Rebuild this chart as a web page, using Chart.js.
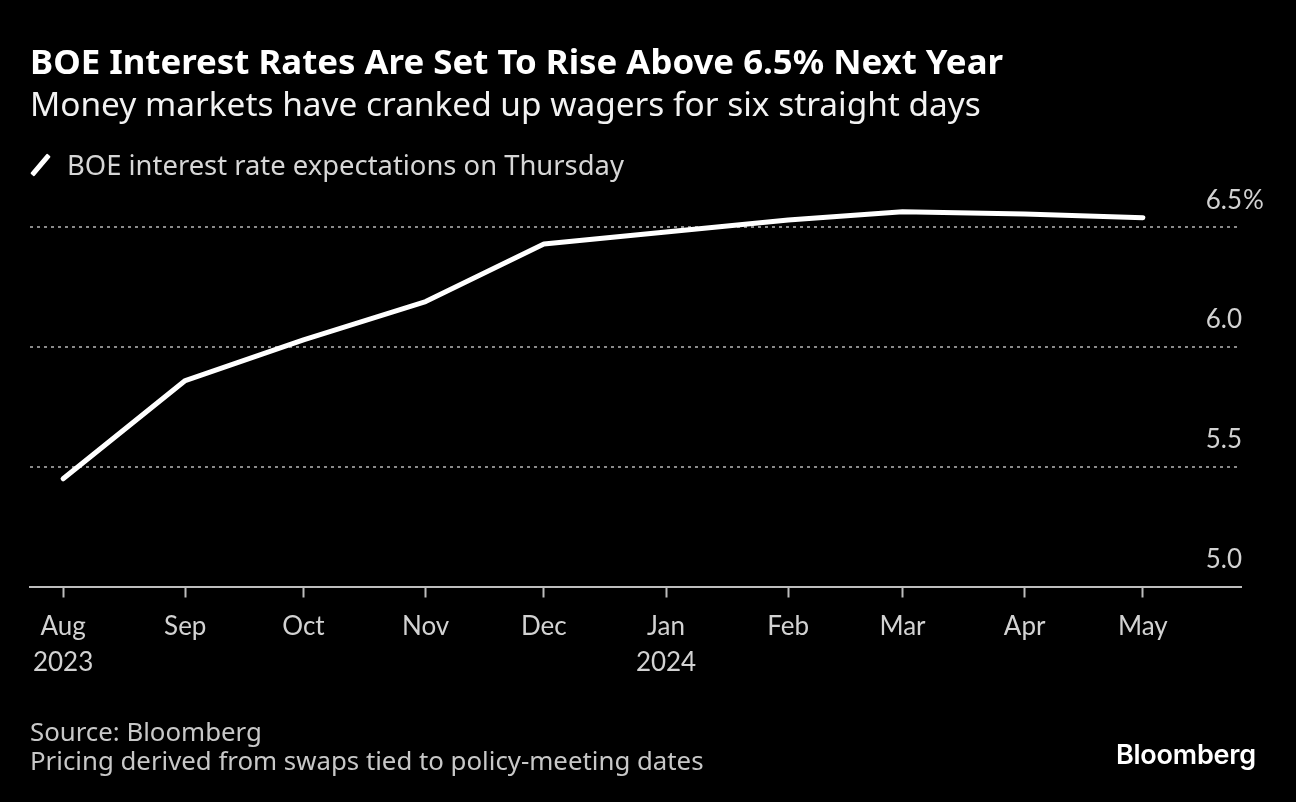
<!DOCTYPE html>
<html>
<head>
<meta charset="utf-8">
<script src="https://cdn.jsdelivr.net/npm/chart.js@4.4.1/dist/chart.umd.min.js"></script>
<style>
    html, body { margin: 0; padding: 0; background: #000; }
    #wrap { position: relative; width: 1296px; height: 802px; overflow: hidden; font-family: 'Noto Sans', sans-serif; }
    #wrap canvas { position: absolute; left: 0; top: 0; }
    .txt { position: absolute; line-height: 1; white-space: nowrap; }
    #title { left: 30px; top: 44.1px; font-size: 34.8px; font-weight: 700; color: #fff; }
    #subtitle { left: 30px; top: 87.3px; font-size: 33.4px; color: #f2f2f2; }
    #legend { left: 67px; top: 151.4px; font-size: 27.4px; color: #d6d6d6; }
    #legendIcon { position: absolute; left: 38px; top: 152px; width: 5px; height: 26px; background: #fff; border-radius: 1px; transform: rotate(40deg); }
    #source { left: 30px; top: 718.8px; font-size: 25.8px; color: #c8c8c8; }
    #note { left: 30px; top: 748.1px; font-size: 25.8px; color: #c8c8c8; }
    #logo { right: 40px; top: 741px; font-size: 27px; font-weight: 600; color: #fff; font-family: 'Inter', sans-serif; letter-spacing: -0.2px; }
</style>
</head>
<body>
<div id="wrap">
    <canvas id="chart"></canvas>
    <div class="txt" id="title">BOE Interest Rates Are Set To Rise Above 6.5% Next Year</div>
    <div class="txt" id="subtitle">Money markets have cranked up wagers for six straight days</div>
    <div id="legendIcon"></div>
    <div class="txt" id="legend"></div>
    <div class="txt" id="source">Source: Bloomberg</div>
    <div class="txt" id="note">Pricing derived from swaps tied to policy-meeting dates</div>
    <div class="txt" id="logo">Bloomberg</div>
</div>
<script>
// --- データ ---
const seriesLabel = 'BOE interest rate expectations on Thursday';
const monthDates = ['2023-08-01', '2023-09-01', '2023-10-01', '2023-11-01', '2023-12-01',
                    '2024-01-01', '2024-02-01', '2024-03-01', '2024-04-01', '2024-05-01'];
const xTickLabels = [['Aug', '2023'], 'Sep', 'Oct', 'Nov', 'Dec', ['Jan', '2024'], 'Feb', 'Mar', 'Apr', 'May'];
const rateExpectations = [5.45, 5.86, 6.03, 6.19, 6.43, 6.48, 6.53, 6.565, 6.555, 6.54];
const yTicks = [5.0, 5.5, 6.0, 6.5];

const DAY = 86400000;
const origin = Date.parse(monthDates[0]);
const dayOffsets = monthDates.map(d => (Date.parse(d) - origin) / DAY);

document.getElementById('legend').textContent = seriesLabel;

const COLORS = {
    line: '#ffffff',
    grid: '#8a8a8a',
    axis: '#bdbdbd',
    tick: '#d2d2d2'
};

// y軸ラベル（グリッド線の上、右寄せ）
const yLabelPlugin = {
    id: 'yLabels',
    afterDraw(chart) {
        const { ctx } = chart;
        const y = chart.scales.y;
        const right = chart.chartArea.right;
        ctx.save();
        ctx.font = "26px 'Lato', sans-serif";
        ctx.fillStyle = COLORS.tick;
        ctx.textBaseline = 'middle';
        yTicks.forEach((v, i) => {
            const py = y.getPixelForValue(v) - 27;
            ctx.textAlign = 'right';
            ctx.fillText(v.toFixed(1), right + 1, py);
            if (i === yTicks.length - 1) {
                ctx.textAlign = 'left';
                ctx.fillText('%', right + 2, py);
            }
        });
        ctx.restore();
    }
};

new Chart(document.getElementById('chart').getContext('2d'), {
    type: 'line',
    data: {
        datasets: [{
            label: seriesLabel,
            data: dayOffsets.map((x, i) => ({ x, y: rateExpectations[i] })),
            borderColor: COLORS.line,
            borderWidth: 5,
            borderCapStyle: 'round',
            borderJoinStyle: 'round',
            pointRadius: 0,
            tension: 0,
            fill: false
        }]
    },
    options: {
        responsive: true,
        maintainAspectRatio: false,
        animation: false,
        layout: { padding: { left: 30, right: 55, top: 179.4, bottom: 115.5 } },
        plugins: {
            legend: { display: false },
            tooltip: { enabled: false }
        },
        scales: {
            x: {
                type: 'linear',
                min: -8.4,
                max: 298.9,
                afterBuildTicks: (scale) => { scale.ticks = dayOffsets.map(v => ({ value: v })); },
                afterFit: (scale) => { scale.height = 100; },
                ticks: {
                    autoSkip: false,
                    maxRotation: 0,
                    padding: 12,
                    color: COLORS.tick,
                    font: { family: "'Lato', sans-serif", size: 26, lineHeight: 1.35 },
                    callback: (v, i) => xTickLabels[i]
                },
                grid: {
                    display: true,
                    drawOnChartArea: false,
                    drawTicks: true,
                    tickLength: 11,
                    tickWidth: 2,
                    tickColor: COLORS.axis
                },
                border: { display: true, color: COLORS.axis, width: 2 }
            },
            y: {
                position: 'right',
                min: 5.0,
                max: 6.7,
                afterBuildTicks: (scale) => { scale.ticks = yTicks.map(v => ({ value: v })); },
                afterFit: (scale) => { scale.width = 0; },
                ticks: { display: false },
                grid: {
                    drawTicks: false,
                    lineWidth: 2,
                    color: (c) => (c.tick && c.tick.value === 5.0) ? 'rgba(0,0,0,0)' : COLORS.grid
                },
                border: { display: false, dash: [3, 4] }
            }
        }
    },
    plugins: [yLabelPlugin]
});
</script>
</body>
</html>
